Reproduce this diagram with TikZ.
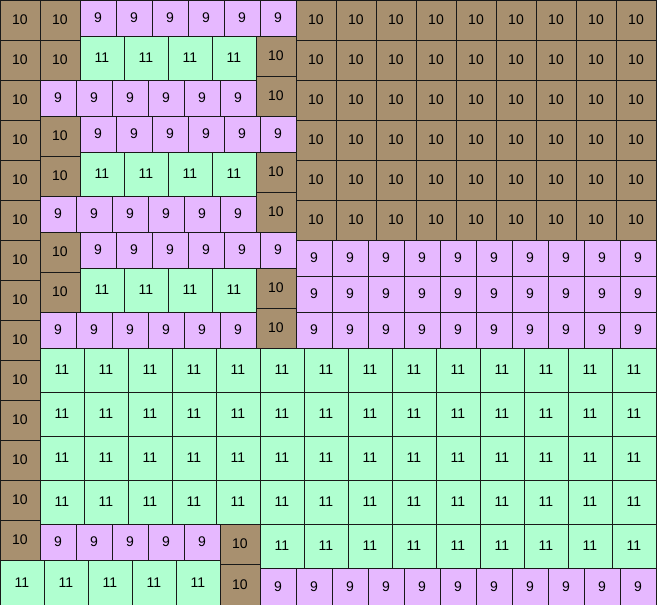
\documentclass[tikz,border=0pt]{standalone}
\usepackage{fontspec}
\setmainfont{Liberation Sans}
\definecolor{sand}{HTML}{A8906F}
\definecolor{mint}{HTML}{B0FFD0}
\definecolor{lilac}{HTML}{E6B8FF}
\begin{document}
\begin{tikzpicture}[x=1pt, y=-1pt,
  cell/.style={draw=black!90, line width=0.9pt, anchor=north west, outer sep=0pt, inner sep=0pt, font=\fontsize{14}{14}\selectfont},
  nine/.style={cell, fill=lilac, minimum width=36pt, minimum height=36pt},
  ten/.style={cell, fill=sand, minimum width=40pt, minimum height=40pt},
  eleven/.style={cell, fill=mint, minimum width=44pt, minimum height=44pt}]
  \useasboundingbox (0,0) rectangle (657,605);

  % left column
  \foreach \i in {0,...,13}
    \node[ten] (left\i) at (0,40*\i) {10};

  % three bands on the top left
  \foreach \p in {0,1,2} {
    \node[ten] (bandA\p) at (40,116*\p) {10};
    \node[ten] (bandB\p) at (40,116*\p+40) {10};
    \foreach \j in {0,...,5}
      \node[nine] (upper\p\j) at (80+36*\j,116*\p) {9};
    \foreach \j in {0,...,3}
      \node[eleven] (mid\p\j) at (80+44*\j,116*\p+36) {11};
    \node[ten] (bandC\p) at (256,116*\p+36) {10};
    \node[ten] (bandD\p) at (256,116*\p+76) {10};
    \foreach \j in {0,...,5}
      \node[nine] (lower\p\j) at (40+36*\j,116*\p+80) {9};
  }

  % top right
  \foreach \i in {0,...,5}
    \foreach \j in {0,...,8}
      \node[ten] (tr\i\j) at (296+40*\j,40*\i) {10};
  \foreach \i in {0,...,2}
    \foreach \j in {0,...,9}
      \node[nine] (mr\i\j) at (296+36*\j,240+36*\i) {9};

  % lower block
  \foreach \i in {0,...,3}
    \foreach \j in {0,...,13}
      \node[eleven] (lo\i-\j) at (40+44*\j,348+44*\i) {11};
  \foreach \j in {0,...,8}
    \node[eleven] (lr\j) at (260+44*\j,524) {11};
  \foreach \j in {0,...,4}
    \node[nine] (bn\j) at (40+36*\j,524) {9};
  \node[ten] (bt0) at (220,524) {10};
  \node[ten, minimum height=41pt] (bt1) at (220,564) {10};
  \foreach \j in {0,...,4}
    \node[eleven, minimum height=45pt] (be\j) at (44*\j,560) {11};
  \foreach \j in {0,...,10}
    \node[nine, minimum height=37pt] (bb\j) at (260+36*\j,568) {9};
\end{tikzpicture}
\end{document}
